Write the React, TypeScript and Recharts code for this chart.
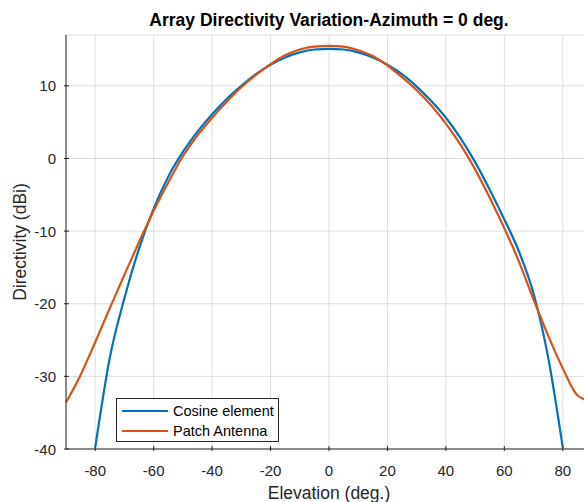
import { CartesianGrid, Legend, Line, LineChart, XAxis, YAxis } from "recharts";

// elevation samples (deg.), 5 deg step
const elevation = [
  -90, -85, -80, -75, -70, -65, -60, -55, -50, -45, -40, -35, -30, -25, -20, -15, -10, -5, 0,
  5, 10, 15, 20, 25, 30, 35, 40, 45, 50, 55, 60, 65, 70, 75, 80, 85, 90,
];
// directivity (dBi); cosine element drops out of view past +/-80
const cosineElement = [
  null, null, -39.8, -27.4, -19.2, -12.4, -6.9, -2.5, 0.9, 3.7, 6.1, 8.2, 10.0, 11.6, 12.9, 13.9, 14.6, 15.0, 15.1,
  15.0, 14.6, 13.9, 12.9, 11.6, 9.9, 7.9, 5.6, 2.8, -0.5, -4.3, -8.4, -12.8, -18.6, -27.4, -39.8, null, null,
];
const patchAntenna = [
  -33.6, -29.8, -25.3, -20.6, -16.0, -11.5, -7.2, -3.3, 0.3, 3.2, 5.6, 7.8, 9.8, 11.5, 13.0, 14.2, 15.0, 15.4, 15.5,
  15.4, 14.9, 14.1, 12.8, 11.2, 9.4, 7.3, 4.8, 1.9, -1.5, -5.4, -9.6, -14.2, -19.4, -24.4, -28.9, -32.6, -33.5,
];

const xTicks = [-80, -60, -40, -20, 0, 20, 40, 60, 80];
const yTicks = [-40, -30, -20, -10, 0, 10];

const data = elevation.map((e, i) => ({
  elevation: e,
  cosine: cosineElement[i],
  patch: patchAntenna[i],
}));

const AXIS = "#262626";
const BLUE = "#0072BD";
const ORANGE = "#D95319";
const FONT = '"Liberation Sans", Arial, Helvetica, sans-serif';

function BottomTick({ x, y, payload }: any) {
  return (
    <g>
      <line x1={x} y1={y} x2={x} y2={y - 5} stroke={AXIS} />
      <text x={x} y={y + 25} textAnchor="middle" fill={AXIS} fontSize={15} fontFamily={FONT}>
        {payload.value}
      </text>
    </g>
  );
}

function TopTick({ x, y }: any) {
  return <line x1={x} y1={y} x2={x} y2={y + 5} stroke={AXIS} />;
}

function LeftTick({ x, y, payload }: any) {
  return (
    <g>
      <line x1={x} y1={y} x2={x + 5} y2={y} stroke={AXIS} />
      <text x={x - 8} y={y + 5.5} textAnchor="end" fill={AXIS} fontSize={15} fontFamily={FONT}>
        {payload.value}
      </text>
    </g>
  );
}

const series = [
  { key: "cosine", name: "Cosine element", color: BLUE },
  { key: "patch", name: "Patch Antenna", color: ORANGE },
];

function LegendBox() {
  return (
    <svg width={163} height={44} style={{ display: "block" }}>
      <rect x={0.5} y={0.5} width={162} height={43} fill="#fff" stroke={AXIS} />
      {series.map((s, i) => (
        <g key={s.key}>
          <line x1={6} x2={52} y1={13 + i * 20} y2={13 + i * 20} stroke={s.color} strokeWidth={2} />
          <text x={57} y={18 + i * 20} fontSize={14.5} fill="#000" fontFamily={FONT}>
            {s.name}
          </text>
        </g>
      ))}
    </svg>
  );
}

export default function App() {
  return (
    <div
      style={{
        position: "fixed",
        left: 0,
        top: 0,
        width: 584,
        height: 502,
        overflow: "hidden",
        background: "#fff",
        fontFamily: FONT,
      }}
    >
      <LineChart width={600} height={502} data={data} margin={{ top: 35, right: 8, left: 0, bottom: 0 }}>
        <CartesianGrid stroke="#dedede" />
        <XAxis
          dataKey="elevation"
          type="number"
          domain={[-90, 90]}
          ticks={xTicks}
          height={53}
          tickSize={0}
          tickLine={false}
          axisLine={{ stroke: AXIS }}
          tick={BottomTick}
          label={{ value: "Elevation (deg.)", position: "insideBottom", offset: 3, fill: AXIS, fontSize: 17.5 }}
        />
        <XAxis
          xAxisId="top"
          orientation="top"
          dataKey="elevation"
          type="number"
          domain={[-90, 90]}
          ticks={xTicks}
          height={0}
          tickSize={0}
          tickLine={false}
          axisLine={{ stroke: AXIS }}
          tick={TopTick}
        />
        <YAxis
          type="number"
          domain={[-40, 17]}
          allowDataOverflow
          ticks={yTicks}
          width={66}
          tickSize={0}
          tickLine={false}
          axisLine={{ stroke: AXIS }}
          tick={LeftTick}
          label={{
            value: "Directivity (dBi)",
            angle: -90,
            position: "insideLeft",
            offset: 20,
            fill: AXIS,
            fontSize: 17.5,
            style: { textAnchor: "middle" },
          }}
        />
        <Legend
          layout="vertical"
          align="center"
          verticalAlign="middle"
          wrapperStyle={{ left: 116, top: 398, width: 163, height: 44 }}
          content={() => <LegendBox />}
        />
        {series.map((s) => (
          <Line
            key={s.key}
            dataKey={s.key}
            name={s.name}
            type="monotone"
            stroke={s.color}
            strokeWidth={2.2}
            dot={false}
            activeDot={false}
            isAnimationActive={false}
          />
        ))}
      </LineChart>
      <div
        style={{
          position: "absolute",
          left: 0,
          top: 12,
          width: 658,
          textAlign: "center",
          fontSize: 17.5,
          lineHeight: 1,
          fontWeight: "bold",
          color: "#000",
          whiteSpace: "nowrap",
        }}
      >
        Array Directivity Variation-Azimuth = 0 deg.
      </div>
    </div>
  );
}
